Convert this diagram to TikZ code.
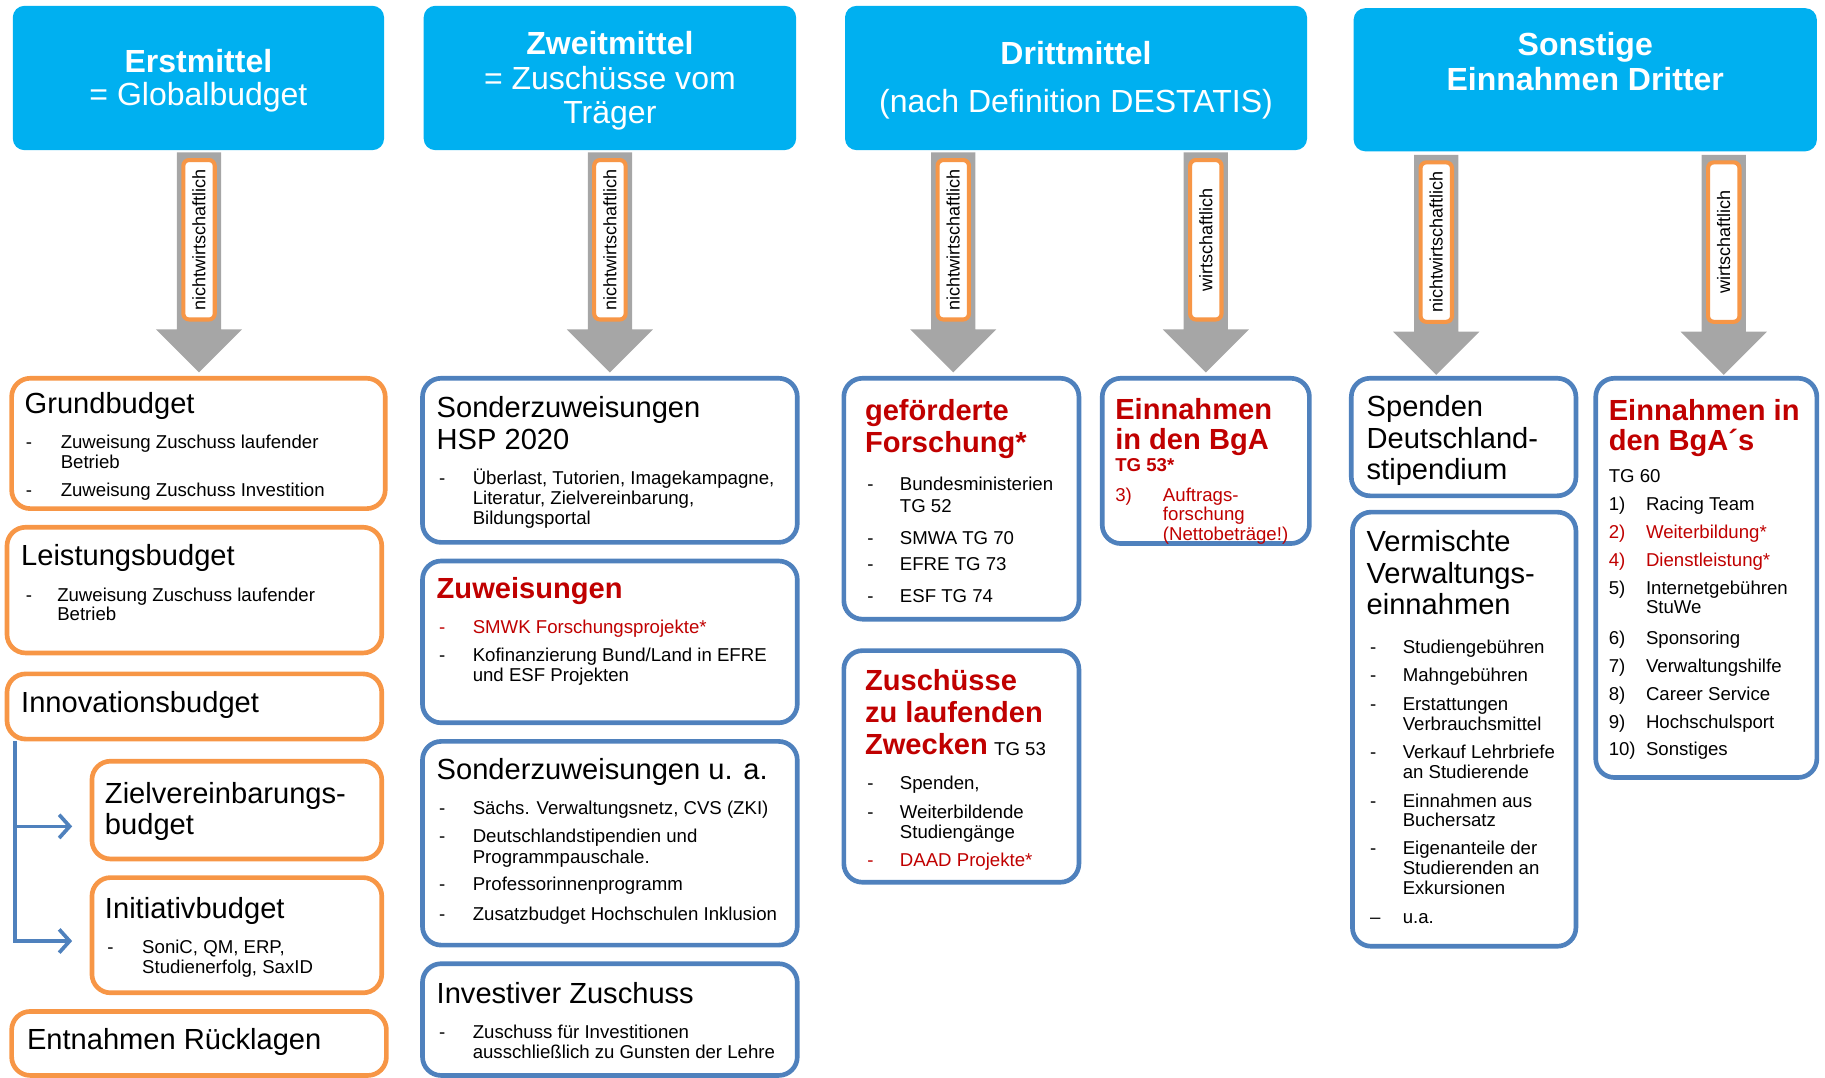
\documentclass[tikz,border=0pt]{standalone}
\usepackage{fontspec}
\setmainfont{Liberation Sans}
\usetikzlibrary{arrows.meta,fit}
\definecolor{hcyan}{HTML}{00B0F0}
\definecolor{agray}{HTML}{A6A6A6}
\definecolor{borange}{HTML}{F79646}
\definecolor{bblue}{HTML}{4F81BD}
\definecolor{dred}{HTML}{C00000}
\tikzset{
  hbox/.style={fill=hcyan, rounded corners=10pt, inner sep=0pt},
  obox/.style={draw=borange, line width=4pt, rounded corners=16pt, fill=white, inner sep=0pt},
  bbox/.style={draw=bblue, line width=4pt, rounded corners=16pt, fill=white, inner sep=0pt},
  htxt/.style={text=white, font=\fontsize{27.5}{30}\selectfont, anchor=base, inner sep=0pt},
  hbold/.style={htxt, font=\fontsize{27.5}{30}\selectfont\bfseries},
  ttl/.style={font=\fontsize{25}{27}\selectfont, anchor=base west, inner sep=0pt},
  rttl/.style={text=dred, font=\fontsize{25}{27}\selectfont\bfseries, anchor=base west, inner sep=0pt},
  itm/.style={font=\fontsize{16}{18}\selectfont, anchor=base west, inner sep=0pt, yshift=-1.5pt},
  ritm/.style={itm, text=dred},
  lbl/.style={draw=borange, line width=3.5pt, fill=white, rounded corners=5pt, rotate=90,
    minimum width=137pt, minimum height=27pt, inner sep=0pt, font=\fontsize{15.5}{17}\selectfont},
  bline/.style={draw=bblue, line width=3.2pt, -{Straight Barb[length=9pt,width=20pt]}},
}
\newcommand\grayarrow[3]{%
  \fill[agray] (#1-19,#2) -- (#1+19,#2) -- (#1+19,#3) -- (#1+37,#3) -- (#1,#3+37)
    -- (#1-37,#3) -- (#1-19,#3) -- cycle;}
\begin{document}
\begin{tikzpicture}[x=1pt,y=-1pt]
\useasboundingbox (0,0) rectangle (1568,926);
\clip (0,0) rectangle (1568,926);

% ---------- header boxes ----------
\node[hbox, fit={(11,5) (330,129)}] (h1) {};
\node[hbox, fit={(364,5) (684,129)}] (h2) {};
\node[hbox, fit={(726,5) (1123,129)}] (h3) {};
\node[hbox, fit={(1163,7) (1561,130)}] (h4) {};

\node[hbold] (h1a) at (170.5,62) {Erstmittel};
\node[htxt]  (h1b) at (170.5,91) {= Globalbudget};
\node[hbold] (h2a) at (524,47) {Zweitmittel};
\node[htxt]  (h2b) at (524,77) {= Zuschüsse vom};
\node[htxt]  (h2c) at (524,106) {Träger};
\node[hbold] (h3a) at (924.5,55) {Drittmittel};
\node[htxt]  (h3b) at (924.5,97) {(nach Definition DESTATIS)};
\node[hbold] (h4a) at (1362,48) {Sonstige};
\node[hbold] (h4b) at (1362,78) {Einnahmen Dritter};

% ---------- gray arrows with labels ----------
\grayarrow{171}{131}{283}
\grayarrow{524}{131}{283}
\grayarrow{819}{131}{283}
\grayarrow{1036}{131}{283}
\grayarrow{1234}{133}{285}
\grayarrow{1481}{133}{285}
\node[lbl] (l1) at (171,206) {nichtwirtschaftlich};
\node[lbl] (l2) at (524,206) {nichtwirtschaftlich};
\node[lbl] (l3) at (819,206) {nichtwirtschaftlich};
\node[lbl] (l4) at (1036,206) {wirtschaftlich};
\node[lbl] (l5) at (1234,208) {nichtwirtschaftlich};
\node[lbl] (l6) at (1481,208) {wirtschaftlich};

% ---------- column 1 (orange) ----------
\node[obox, fit={(10,325) (331,437)}] (grund) {};
\node[obox, fit={(6,453) (328,561)}] (leist) {};
\node[obox, fit={(6,579) (328,635)}] (innov) {};
\node[obox, fit={(79,654) (328,738)}] (ziel) {};
\node[obox, fit={(79,754) (328,853)}] (init) {};
\node[obox, fit={(10,869) (332,924)}] (entn) {};

\node[ttl] (grund-t) at (21,355) {Grundbudget};
\node[itm] (grund-d1) at (22,384) {-};
\node[itm] (grund-i1) at (52,384) {Zuweisung Zuschuss laufender};
\node[itm] (grund-i2) at (52,401) {Betrieb};
\node[itm] (grund-d2) at (22,425) {-};
\node[itm] (grund-i3) at (52,425) {Zuweisung Zuschuss Investition};

\node[ttl] (leist-t) at (18,486) {Leistungsbudget};
\node[itm] (leist-d1) at (22,515) {-};
\node[itm] (leist-i1) at (49,515) {Zuweisung Zuschuss laufender};
\node[itm] (leist-i2) at (49,532) {Betrieb};

\node[ttl] (innov-t) at (18,612) {Innovationsbudget};

\node[ttl] (ziel-t1) at (90,690) {Zielvereinbarungs-};
\node[ttl] (ziel-t2) at (90,717) {budget};

\node[ttl] (init-t) at (90,789) {Initiativbudget};
\node[itm] (init-d1) at (92,818) {-};
\node[itm] (init-i1) at (122,818) {SoniC, QM, ERP,};
\node[itm] (init-i2) at (122,835) {Studienerfolg, SaxID};

\node[ttl] (entn-t) at (23,902) {Entnahmen Rücklagen};

\coordinate (bstart) at (13,637);
\draw[bline] (bstart) |- ([xshift=-15pt,yshift=-14pt]ziel.west);
\draw[bline] (bstart) |- ([xshift=-15pt,yshift=-5pt]init.west);

% ---------- column 2 (blue) ----------
\node[bbox, fit={(363,325) (685,466)}] (hsp) {};
\node[bbox, fit={(363,482) (685,621)}] (zuw) {};
\node[bbox, fit={(363,637) (685,812)}] (sond) {};
\node[bbox, fit={(363,828) (685,924)}] (inv) {};

\node[ttl] (hsp-t1) at (375,359) {Sonderzuweisungen};
\node[ttl] (hsp-t2) at (375,386) {HSP 2020};
\node[itm] (hsp-d1) at (377,415) {-};
\node[itm] (hsp-i1) at (406,415) {Überlast, Tutorien, Imagekampagne,};
\node[itm] (hsp-i2) at (406,432) {Literatur, Zielvereinbarung,};
\node[itm] (hsp-i3) at (406,449) {Bildungsportal};

\node[rttl] (zuw-t) at (375,514) {Zuweisungen};
\node[ritm] (zuw-d1) at (377,543) {-};
\node[ritm] (zuw-i1) at (406,543) {SMWK Forschungsprojekte*};
\node[itm] (zuw-d2) at (377,567) {-};
\node[itm] (zuw-i2) at (406,567) {Kofinanzierung Bund/Land in EFRE};
\node[itm] (zuw-i3) at (406,584) {und ESF Projekten};

\node[ttl] (sond-t) at (375,670) {Sonderzuweisungen u. a.};
\node[itm] (sond-d1) at (377,698) {-};
\node[itm] (sond-i1) at (406,698) {Sächs. Verwaltungsnetz, CVS (ZKI)};
\node[itm] (sond-d2) at (377,722) {-};
\node[itm] (sond-i2) at (406,722) {Deutschlandstipendien und};
\node[itm] (sond-i3) at (406,740) {Programmpauschale.};
\node[itm] (sond-d3) at (377,764) {-};
\node[itm] (sond-i4) at (406,764) {Professorinnenprogramm};
\node[itm] (sond-d4) at (377,789) {-};
\node[itm] (sond-i5) at (406,789) {Zusatzbudget Hochschulen Inklusion};

\node[ttl] (inv-t) at (375,862) {Investiver Zuschuss};
\node[itm] (inv-d1) at (377,891) {-};
\node[itm] (inv-i1) at (406,891) {Zuschuss für Investitionen};
\node[itm] (inv-i2) at (406,908) {ausschließlich zu Gunsten der Lehre};

% ---------- column 3 ----------
\node[bbox, fit={(725,325) (927,532)}] (gef) {};
\node[bbox, fit={(725,559) (927,758)}] (zus) {};
\node[bbox, fit={(947,325) (1125,467)}] (bga) {};

\node[rttl] (gef-t1) at (743,361) {geförderte};
\node[rttl] (gef-t2) at (743,389) {Forschung*};
\node[itm] (gef-d1) at (745,420) {-};
\node[itm] (gef-i1) at (773,420) {Bundesministerien};
\node[itm] (gef-i2) at (773,439) {TG 52};
\node[itm] (gef-d2) at (745,466) {-};
\node[itm] (gef-i3) at (773,466) {SMWA TG 70};
\node[itm] (gef-d3) at (745,489) {-};
\node[itm] (gef-i4) at (773,489) {EFRE TG 73};
\node[itm] (gef-d4) at (745,516) {-};
\node[itm] (gef-i5) at (773,516) {ESF TG 74};

\node[rttl] (zus-t1) at (743,593) {Zuschüsse};
\node[rttl] (zus-t2) at (743,621) {zu laufenden};
\node[rttl] (zus-t3) at (743,648) {Zwecken};
\node[itm, yshift=0pt] (zus-t4) at ([xshift=5pt]zus-t3.base east) {TG 53};
\node[itm] (zus-d1) at (745,677) {-};
\node[itm] (zus-i1) at (773,677) {Spenden,};
\node[itm] (zus-d2) at (745,702) {-};
\node[itm] (zus-i2) at (773,702) {Weiterbildende};
\node[itm] (zus-i3) at (773,719) {Studiengänge};
\node[ritm] (zus-d3) at (745,743) {-};
\node[ritm] (zus-i4) at (773,743) {DAAD Projekte*};

\node[rttl] (bga-t1) at (958,360) {Einnahmen};
\node[rttl] (bga-t2) at (958,386) {in den BgA};
\node[ritm, font=\fontsize{16}{18}\selectfont\bfseries] (bga-t3) at (958,404) {TG 53*};
\node[ritm] (bga-n1) at (958,429) {3)};
\node[ritm] (bga-i1) at (999,429) {Auftrags-};
\node[ritm] (bga-i2) at (999,446) {forschung};
\node[ritm] (bga-i3) at (999,463) {(Nettobeträge!)};

% ---------- column 4 ----------
\node[bbox, fit={(1161,325) (1354,426)}] (spd) {};
\node[bbox, fit={(1162,440) (1354,813)}] (verm) {};
\node[bbox, fit={(1371,325) (1561,668)}] (bgas) {};

\node[ttl] (spd-t1) at (1174,358) {Spenden};
\node[ttl] (spd-t2) at (1174,385) {Deutschland-};
\node[ttl] (spd-t3) at (1174,412) {stipendium};

\node[ttl] (verm-t1) at (1174,474) {Vermischte};
\node[ttl] (verm-t2) at (1174,501) {Verwaltungs-};
\node[ttl] (verm-t3) at (1174,528) {einnahmen};
\foreach \yy [count=\k] in {560,584,609,650,692,733}
  \node[itm] (verm-d\k) at (1177,\yy) {-};
\node[itm] (verm-d7) at (1177,792) {–};
\node[itm] (verm-i1) at (1205,560) {Studiengebühren};
\node[itm] (verm-i2) at (1205,584) {Mahngebühren};
\node[itm] (verm-i3) at (1205,609) {Erstattungen};
\node[itm] (verm-i4) at (1205,626) {Verbrauchsmittel};
\node[itm] (verm-i5) at (1205,650) {Verkauf Lehrbriefe};
\node[itm] (verm-i6) at (1205,667) {an Studierende};
\node[itm] (verm-i7) at (1205,692) {Einnahmen aus};
\node[itm] (verm-i8) at (1205,709) {Buchersatz};
\node[itm] (verm-i9) at (1205,733) {Eigenanteile der};
\node[itm] (verm-i10) at (1205,750) {Studierenden an};
\node[itm] (verm-i11) at (1205,767) {Exkursionen};
\node[itm] (verm-i12) at (1205,792) {u.a.};

\node[rttl] (bgas-t1) at (1382,361) {Einnahmen in};
\node[rttl] (bgas-t2) at (1382,387) {den BgA´s};
\node[itm] (bgas-t3) at (1382,413) {TG 60};
\node[itm] (bgas-n1) at (1382,437) {1)};
\node[itm] (bgas-i1) at (1414,437) {Racing Team};
\node[ritm] (bgas-n2) at (1382,461) {2)};
\node[ritm] (bgas-i2) at (1414,461) {Weiterbildung*};
\node[ritm] (bgas-n3) at (1382,485) {4)};
\node[ritm] (bgas-i3) at (1414,485) {Dienstleistung*};
\node[itm] (bgas-n4) at (1382,509) {5)};
\node[itm] (bgas-i4) at (1414,509) {Internetgebühren};
\node[itm] (bgas-i5) at (1414,526) {StuWe};
\node[itm] (bgas-n5) at (1382,552) {6)};
\node[itm] (bgas-i6) at (1414,552) {Sponsoring};
\node[itm] (bgas-n6) at (1382,576) {7)};
\node[itm] (bgas-i7) at (1414,576) {Verwaltungshilfe};
\node[itm] (bgas-n7) at (1382,600) {8)};
\node[itm] (bgas-i8) at (1414,600) {Career Service};
\node[itm] (bgas-n8) at (1382,624) {9)};
\node[itm] (bgas-i9) at (1414,624) {Hochschulsport};
\node[itm] (bgas-n9) at (1382,648) {10)};
\node[itm] (bgas-i10) at (1414,648) {Sonstiges};
\end{tikzpicture}
\end{document}
